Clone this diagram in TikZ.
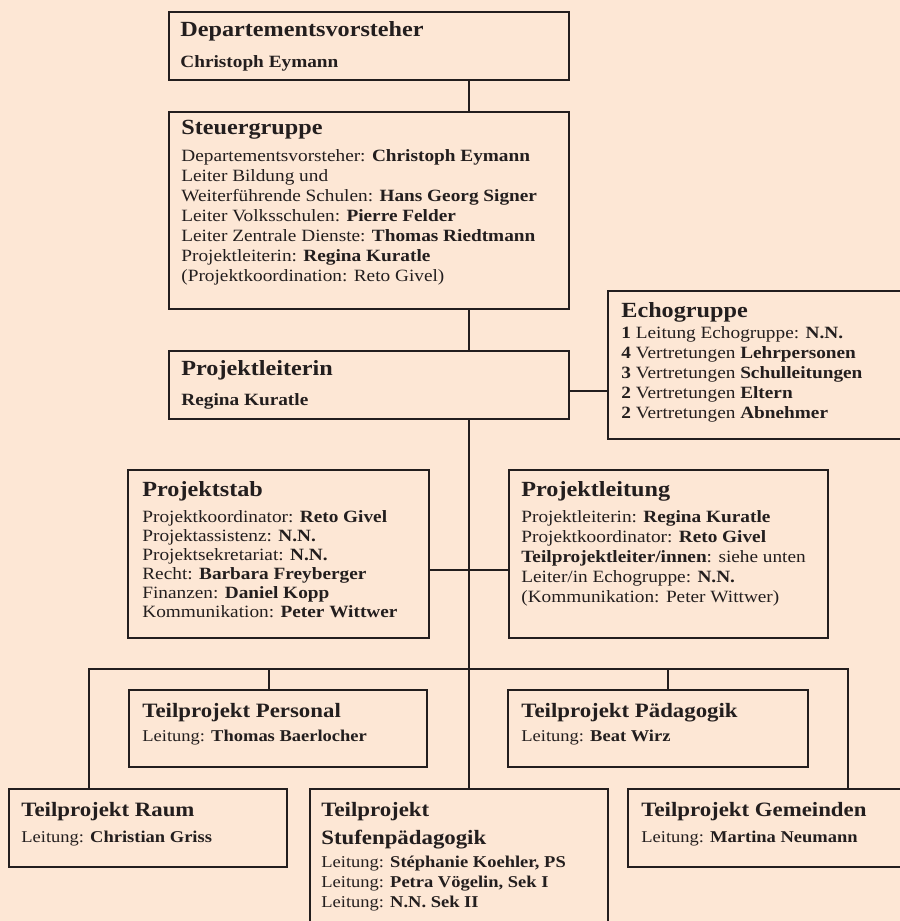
\documentclass[tikz,border=0pt]{standalone}
\usepackage{fontspec}
\setmainfont{Liberation Serif}[FakeStretch=1.12]
\usetikzlibrary{fit}
\definecolor{paper}{RGB}{253, 231, 213}
\definecolor{ink}{RGB}{35, 30, 30}
\newcommand{\orghead}{\fontsize{12.3}{14}\selectfont\bfseries}
\newcommand{\orgbody}{\fontsize{9.8}{11.4}\selectfont}
\newcommand{\subhead}{\fontsize{11.6}{14}\selectfont\bfseries}
\newcommand{\subbody}{\fontsize{9.4}{11.4}\selectfont}

\begin{document}
\begin{tikzpicture}[x=0.02cm, y=-0.02cm,
  orgbox/.style={draw=ink, line width=1.1pt, inner sep=0pt, fit={#1}},
  boxtext/.style={anchor=north west, inner sep=0pt, align=left, text=ink, font=\orgbody},
  subtext/.style={boxtext, font=\subbody},
  link/.style={draw=ink, line width=1.1pt}]
  \useasboundingbox (0,0) rectangle (900,921);
  \fill[paper] (0,0) rectangle (900,921);
  \clip (0,0) rectangle (900,921);

  % boxes
  \node[orgbox={(169,12) (569,80)}] (dep) {};
  \node[orgbox={(169,112) (569,309)}] (steu) {};
  \node[orgbox={(169,351) (569,419)}] (pl) {};
  \node[orgbox={(608,291) (910,439)}] (echo) {};
  \node[orgbox={(128,470) (429,638)}] (stab) {};
  \node[orgbox={(509,470) (828,638)}] (leit) {};
  \node[orgbox={(129,690) (427,767)}] (pers) {};
  \node[orgbox={(508,690) (808,767)}] (paed) {};
  \node[orgbox={(9,789) (287,867)}] (raum) {};
  \node[orgbox={(310,789) (608,940)}] (stufe) {};
  \node[orgbox={(628,789) (910,867)}] (gem) {};

  % texts
  \node[boxtext] (deptext) at ([shift={(12,10)}]dep.north west)
    {{\orghead Departementsvorsteher}\\[6.2pt]
     \textbf{Christoph Eymann}};
  \node[boxtext] (steutext) at ([shift={(13,9)}]steu.north west)
    {{\orghead Steuergruppe}\\[3.8pt]
     Departementsvorsteher: \textbf{Christoph Eymann}\\
     Leiter Bildung und\\
     Weiterführende Schulen: \textbf{Hans Georg Signer}\\
     Leiter Volksschulen: \textbf{Pierre Felder}\\
     Leiter Zentrale Dienste: \textbf{Thomas Riedtmann}\\
     Projektleiterin: \textbf{Regina Kuratle}\\
     (Projektkoordination: Reto Givel)};
  \node[boxtext] (pltext) at ([shift={(13,10)}]pl.north west)
    {{\orghead Projektleiterin}\\[5.7pt]
     \textbf{Regina Kuratle}};
  \node[boxtext] (echotext) at ([shift={(14,12)}]echo.north west)
    {{\orghead Echogruppe}\\[0.6pt]
     \textbf{1} Leitung Echogruppe: \textbf{N.N.}\\
     \textbf{4} Vertretungen \textbf{Lehrpersonen}\\
     \textbf{3} Vertretungen \textbf{Schulleitungen}\\
     \textbf{2} Vertretungen \textbf{Eltern}\\
     \textbf{2} Vertretungen \textbf{Abnehmer}};
  \node[boxtext, font=\fontsize{9.8}{10.8}\selectfont] (stabtext) at ([shift={(15,12)}]stab.north west)
    {{\orghead Projektstab}\\[4pt]
     Projektkoordinator: \textbf{Reto Givel}\\
     Projektassistenz: \textbf{N.N.}\\
     Projektsekretariat: \textbf{N.N.}\\
     Recht: \textbf{Barbara Freyberger}\\
     Finanzen: \textbf{Daniel Kopp}\\
     Kommunikation: \textbf{Peter Wittwer}};
  \node[boxtext] (leittext) at ([shift={(13,12)}]leit.north west)
    {{\orghead Projektleitung}\\[3.4pt]
     Projektleiterin: \textbf{Regina Kuratle}\\
     Projektkoordinator: \textbf{Reto Givel}\\
     \textbf{Teilprojektleiter/innen}: siehe unten\\
     Leiter/in Echogruppe: \textbf{N.N.}\\
     (Kommunikation: Peter Wittwer)};
  \node[subtext] (perstext) at ([shift={(14,14)}]pers.north west)
    {{\subhead Teilprojekt Personal}\\[2.3pt]
     Leitung: \textbf{Thomas Baerlocher}};
  \node[subtext] (paedtext) at ([shift={(14,14)}]paed.north west)
    {{\subhead Teilprojekt Pädagogik}\\[2.3pt]
     Leitung: \textbf{Beat Wirz}};
  \node[subtext] (raumtext) at ([shift={(13,14)}]raum.north west)
    {{\subhead Teilprojekt Raum}\\[3.4pt]
     Leitung: \textbf{Christian Griss}};
  \node[subtext] (stufetext) at ([shift={(12,14)}]stufe.north west)
    {{\subhead Teilprojekt}\\[4.6pt]
     {\subhead Stufenpädagogik}\\[1.7pt]
     Leitung: \textbf{Stéphanie Koehler, PS}\\
     Leitung: \textbf{Petra Vögelin, Sek I}\\
     Leitung: \textbf{N.N. Sek II}};
  \node[subtext] (gemtext) at ([shift={(14,14)}]gem.north west)
    {{\subhead Teilprojekt Gemeinden}\\[3.4pt]
     Leitung: \textbf{Martina Neumann}};

  % connectors
  \coordinate (trunk) at (469,0);
  \coordinate (echojoin) at (0,391);
  \coordinate (stabjoin) at (0,570);
  \coordinate (barL) at (89,669);
  \coordinate (barR) at (848,669);
  \coordinate (persjoin) at (269,669);
  \coordinate (paedjoin) at (668,669);
  \draw[link] (dep.south -| trunk) -- (steu.north -| trunk);
  \draw[link] (steu.south -| trunk) -- (pl.north -| trunk);
  \draw[link] (pl.south -| trunk) -- (stufe.north -| trunk);
  \draw[link] (pl.east |- echojoin) -- (echo.west |- echojoin);
  \draw[link] (stab.east |- stabjoin) -- (leit.west |- stabjoin);
  \draw[link] (raum.north -| barL) -- (barL) -- (barR) -- (gem.north -| barR);
  \draw[link] (persjoin) -- (pers.north -| persjoin);
  \draw[link] (paedjoin) -- (paed.north -| paedjoin);
\end{tikzpicture}
\end{document}
